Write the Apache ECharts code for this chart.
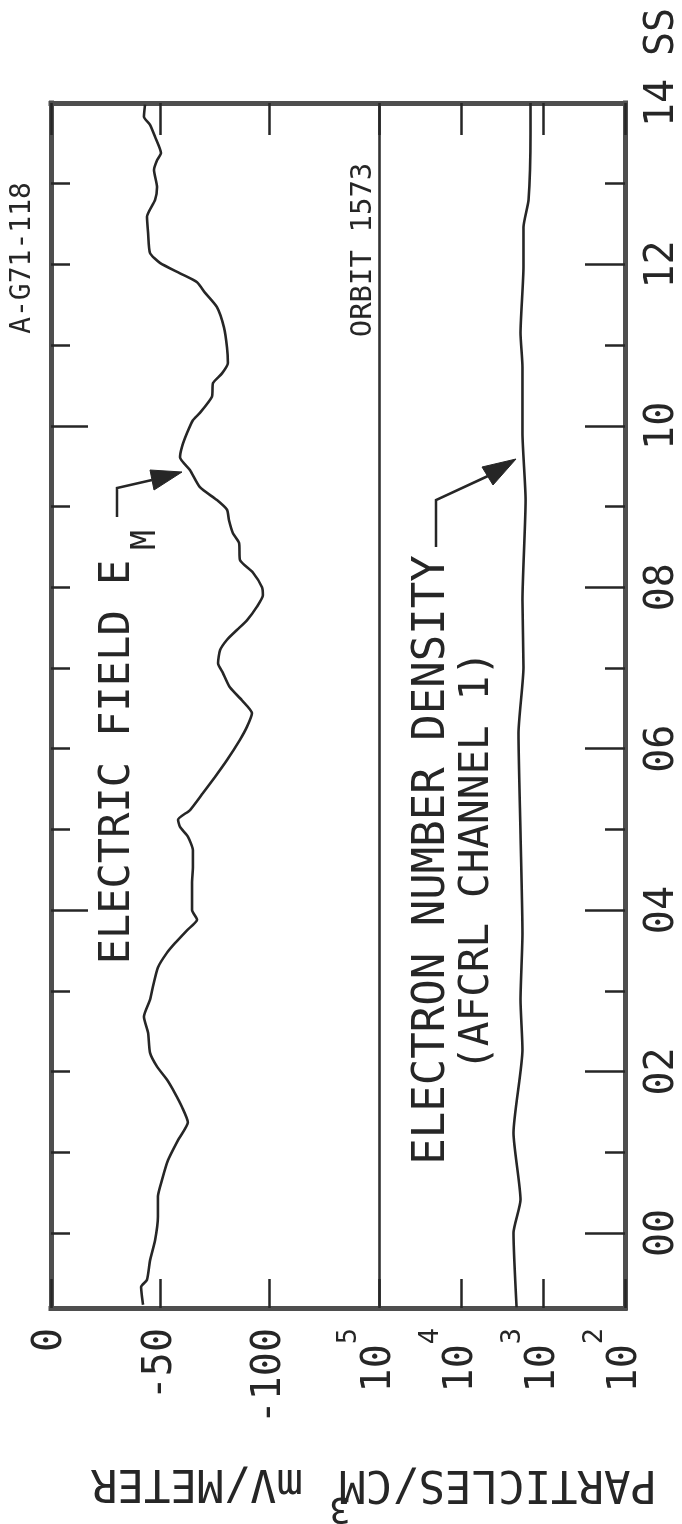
<!DOCTYPE html>
<html>
<head>
<meta charset="utf-8">
<script src="https://cdn.jsdelivr.net/npm/echarts@6/dist/echarts.min.js"></script>
<style>
html,body{margin:0;padding:0;background:#ffffff;}
#c{width:682px;height:1524px;}
</style>
</head>
<body>
<div id="c"></div>
<script>
// ---- data (time in SS, E field in mV/m, density in particles/cm^3) ----
const timeE = [13.98, 13.83, 13.73, 13.58, 13.38, 13.29, 13.17, 12.96, 12.80, 12.59,
  12.39, 12.14, 12.02, 11.89, 11.78, 11.65, 11.47, 11.22, 10.97, 10.78,
  10.65, 10.53, 10.36, 10.16, 10.07, 9.91, 9.74, 9.61, 9.45, 9.24,
  9.08, 8.96, 8.83, 8.67, 8.55, 8.34, 8.18, 8.00, 7.90, 7.76,
  7.59, 7.47, 7.35, 7.22, 7.06, 6.94, 6.76, 6.60, 6.44, 6.27,
  6.11, 5.86, 5.65, 5.45, 5.24, 5.12, 5.03, 4.91, 4.74, 4.53,
  4.34, 4.13, 4.00, 3.88, 3.75, 3.59, 3.47, 3.29, 3.05, 2.89,
  2.68, 2.48, 2.23, 2.06, 1.90, 1.73, 1.56, 1.37, 1.15, 0.90,
  0.66, 0.45, 0.20, -0.09, -0.34, -0.58, -0.67, -0.79, -0.89];
const fieldE = [-43.0, -42.5, -45.3, -47.6, -50.3, -48.5, -47.1, -48.5, -47.6, -43.9,
  -44.4, -45.3, -49.8, -59.0, -66.8, -70.4, -75.9, -79.1, -80.5, -80.9,
  -78.2, -74.1, -73.6, -68.1, -64.9, -62.2, -59.9, -59.0, -63.6, -68.1,
  -75.9, -80.5, -81.4, -83.2, -86.0, -86.4, -92.4, -96.5, -96.9, -94.2,
  -89.6, -85.0, -80.5, -77.3, -76.4, -78.6, -81.8, -87.3, -91.9, -89.6,
  -86.4, -80.5, -75.0, -69.5, -63.6, -58.1, -59.0, -62.6, -64.9, -64.9,
  -64.5, -64.5, -64.5, -66.8, -62.2, -56.7, -53.0, -48.9, -46.6, -45.3,
  -42.5, -44.4, -45.3, -48.5, -53.0, -56.7, -59.9, -62.6, -58.1, -53.5,
  -50.8, -48.9, -48.9, -47.6, -45.3, -43.9, -41.2, -41.6, -42.1];
const timeN = [14.0, 13.63, 12.80, 12.46, 11.97, 11.15, 10.73, 9.91, 9.08, 7.84,
  7.01, 6.19, 4.95, 3.71, 2.89, 2.27, 1.24, 0.41, 0.00, -0.92];
const densityN = [1420, 1420, 1500, 1730, 1730, 1880, 1780, 1780, 1630, 1780,
  1730, 1990, 1880, 1780, 1880, 1780, 2290, 1880, 2290, 2100];

// ---- axis ticks / labels ----
const fieldTicks = [0, -50, -100];
const timeLabels = [0, 2, 4, 6, 8, 10, 12, 14];
const timeMajorTicks = [0, 2, 4, 6, 8, 10, 12];
const timeMinorTicks = [1, 3, 5, 7, 9, 11, 13];
const leftLongTicks = [4, 10];
const leftShortTicks = [0, 1, 2, 3, 5, 6, 7, 8, 9, 11, 12, 13];

const INK = '#262626';
const FRAME = '#4e4e4e';
const MONO = 'DejaVu Sans Mono';

const chart = echarts.init(document.getElementById('c'), null, {renderer: 'canvas'});

function frameLine(w, c) {
  return {show: true, onZero: false, lineStyle: {color: c || FRAME, width: w, cap: 'square'}};
}
const noSplit = {show: false};

const option = {
  animation: false,
  backgroundColor: '#ffffff',
  textStyle: {fontFamily: MONO, color: INK},
  grid: [
    {left: 51, top: 103, width: 328, height: 1205, outerBoundsMode: 'none', containLabel: false},
    {left: 379, top: 103, width: 246, height: 1205, outerBoundsMode: 'none', containLabel: false}
  ],
  xAxis: [
    { // E field, bottom
      gridIndex: 0, type: 'value', position: 'bottom', min: -150, max: 0, interval: 50, inverse: true,
      splitLine: noSplit, axisLine: frameLine(5),
      axisTick: {show: true, inside: true, length: 29, lineStyle: {color: INK, width: 2.5}},
      axisLabel: {show: true, rotate: 90, margin: 20, fontFamily: MONO, fontSize: 40, color: INK,
        formatter: v => fieldTicks.indexOf(v) >= 0 ? String(v) : ''}
    },
    { // E field, top
      gridIndex: 0, type: 'value', position: 'top', min: -150, max: 0, interval: 50, inverse: true,
      splitLine: noSplit, axisLine: frameLine(5),
      axisTick: {show: true, inside: true, length: 32, lineStyle: {color: INK, width: 2.5}},
      axisLabel: {show: false}
    },
    { // density, bottom (log)
      gridIndex: 1, type: 'log', logBase: 10, position: 'bottom', min: 100, max: 100000, inverse: true,
      splitLine: noSplit, axisLine: frameLine(5),
      axisTick: {show: true, inside: true, length: 29, lineStyle: {color: INK, width: 2.5}},
      axisLabel: {show: true, rotate: 90, margin: 20, color: INK,
        formatter: v => '{b|10}{s|' + Math.round(Math.log10(v)) + '}',
        rich: {
          b: {fontFamily: MONO, fontSize: 40, color: INK, verticalAlign: 'bottom', padding: [0, 0, 23, 0]},
          s: {fontFamily: MONO, fontSize: 27, color: INK, verticalAlign: 'top', padding: [0, 0, 60, 0]}
        }}
    },
    { // density, top (log)
      gridIndex: 1, type: 'log', logBase: 10, position: 'top', min: 100, max: 100000, inverse: true,
      splitLine: noSplit, axisLine: frameLine(5),
      axisTick: {show: true, inside: true, length: 32, lineStyle: {color: INK, width: 2.5}},
      axisLabel: {show: false}
    }
  ],
  yAxis: [
    { // 0: left frame, short ticks
      gridIndex: 0, type: 'value', position: 'left', min: -0.93, max: 14,
      splitLine: noSplit, axisLine: frameLine(5),
      axisTick: {show: true, inside: true, length: 19, customValues: leftShortTicks, lineStyle: {color: INK, width: 2.5}},
      axisLabel: {show: false}
    },
    { // 1: left frame, long ticks
      gridIndex: 0, type: 'value', position: 'left', min: -0.93, max: 14,
      splitLine: noSplit, axisLine: {show: false},
      axisTick: {show: true, inside: true, length: 37, customValues: leftLongTicks, lineStyle: {color: INK, width: 2.5}},
      axisLabel: {show: false}
    },
    { // 2: separator at 10^5
      gridIndex: 1, type: 'value', position: 'left', min: -0.93, max: 14,
      splitLine: noSplit, axisLine: frameLine(2.6, '#333333'),
      axisTick: {show: false}, axisLabel: {show: false}
    },
    { // 3: right frame, major ticks + time labels
      gridIndex: 1, type: 'value', position: 'right', min: -0.93, max: 14,
      splitLine: noSplit, axisLine: frameLine(5),
      axisTick: {show: true, inside: true, length: 40, customValues: timeMajorTicks, lineStyle: {color: INK, width: 2.5}},
      axisLabel: {show: true, rotate: 90, margin: 18, fontFamily: MONO, fontSize: 40, color: INK,
        customValues: timeLabels,
        formatter: v => (v < 10 ? '0' : '') + Math.round(v)}
    },
    { // 4: right frame, minor ticks
      gridIndex: 1, type: 'value', position: 'right', min: -0.93, max: 14,
      splitLine: noSplit, axisLine: {show: false},
      axisTick: {show: true, inside: true, length: 20, customValues: timeMinorTicks, lineStyle: {color: INK, width: 2.5}},
      axisLabel: {show: false}
    }
  ],
  series: [
    {
      name: 'Electric field', type: 'line', xAxisIndex: 0, yAxisIndex: 0,
      data: timeE.map((t, i) => [fieldE[i], t]),
      symbol: 'none', showSymbol: false, smooth: 0.2, silent: true,
      lineStyle: {color: INK, width: 2.6}, z: 3
    },
    {
      name: 'Electron number density', type: 'line', xAxisIndex: 2, yAxisIndex: 2,
      data: timeN.map((t, i) => [densityN[i], t]),
      symbol: 'none', showSymbol: false, smooth: 0.2, silent: true,
      lineStyle: {color: INK, width: 2.6}, z: 3
    }
  ],
  graphic: []
};

function txt(text, x, y, size, rot) {
  return {
    type: 'text', x: x, y: y, rotation: rot, silent: true, z: 10,
    style: {
      text: text, font: size + 'px "' + MONO + '"', fill: INK,
      align: 'center', verticalAlign: 'middle',
      textAlign: 'center', textVerticalAlign: 'middle'
    }
  };
}
const R90 = Math.PI / 2;
option.graphic = [
  txt('A-G71-118', 23, 258, 28, R90),
  txt('ORBIT 1573', 363, 250, 29, R90),
  txt('ELECTRIC FIELD E', 118, 762, 42, R90),
  txt('M', 146, 540, 33, R90),
  txt('ELECTRON NUMBER DENSITY', 433, 860, 44, R90),
  txt('(AFCRL CHANNEL 1)', 477, 861, 41, R90),
  txt('SS', 663, 32, 40, R90),
  txt('PARTICLES/CM', 498, 1482, 44, Math.PI),
  txt('3', 340, 1507, 36, Math.PI),
  txt('mV/METER', 197, 1481, 44, Math.PI),
  {type: 'polyline', silent: true, z: 10, shape: {points: [[117, 517], [117, 488], [152, 480]]},
    style: {stroke: INK, lineWidth: 2.5, fill: null}},
  {type: 'polygon', silent: true, z: 10, shape: {points: [[182, 472], [150, 470], [154, 490]]},
    style: {fill: INK, stroke: INK, lineWidth: 1}},
  {type: 'polyline', silent: true, z: 10, shape: {points: [[436, 547], [436, 500], [488, 476]]},
    style: {stroke: INK, lineWidth: 2.5, fill: null}},
  {type: 'polygon', silent: true, z: 10, shape: {points: [[516, 459], [482, 467], [493, 485]]},
    style: {fill: INK, stroke: INK, lineWidth: 1}}
];

chart.setOption(option);
</script>
</body>
</html>
